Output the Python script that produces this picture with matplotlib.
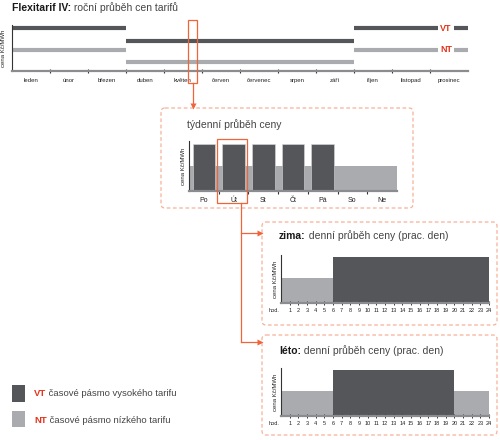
import matplotlib.pyplot as plt
from matplotlib.patches import Rectangle, FancyBboxPatch

plt.rcParams['font.family'] = ['Liberation Sans', 'DejaVu Sans']

# ---------------------------------------------------------------------
# data
# ---------------------------------------------------------------------
months = ["leden", "únor", "březen", "duben", "květen", "červen",
          "červenec", "srpen", "září", "říjen", "listopad", "prosinec"]
vt_month = [43, 43, 43, 30, 30, 30, 30, 30, 30, 43, 43, 43]
nt_month = [21, 21, 21, 9, 9, 9, 9, 9, 9, 21, 21, 21]

days = ["Po", "Út", "St", "Čt", "Pá", "So", "Ne"]
vt_day = [47, 47, 47, 47, 47, 0, 0]
nt_day = [25, 25, 25, 25, 25, 25, 25]

hours = list(range(1, 25))
zima_tarif = ["NT"] * 6 + ["VT"] * 18
leto_tarif = ["NT"] * 6 + ["VT"] * 14 + ["NT"] * 4
level = {"VT": 46, "NT": 25}

# ---------------------------------------------------------------------
# style
# ---------------------------------------------------------------------
DARK = "#545659"
LIGHT = "#a9abae"
ORANGE = "#f0643a"
BOXC = "#f7b29a"
RED = "#e5331a"
TXT = "#444444"

W, H = 500, 440
fig = plt.figure(figsize=(W / 100, H / 100), dpi=100)


def px_axes(x0, y0, x1, y1, z=2):
    return fig.add_axes([x0 / W, 1 - y1 / H, (x1 - x0) / W, (y1 - y0) / H], zorder=z)


def style_axes(ax):
    for s in ["top", "right"]:
        ax.spines[s].set_visible(False)
    ax.spines["left"].set_color("#333333")
    ax.spines["left"].set_linewidth(0.8)
    ax.spines["bottom"].set_color("#8a8c8f")
    ax.spines["bottom"].set_linewidth(1.6)
    ax.set_yticks([])
    ax.set_facecolor("none")


# ---------------------------------------------------------------------
# top chart: yearly course
# ---------------------------------------------------------------------
ax = px_axes(12, 25, 468, 71)
style_axes(ax)
ax.set_xlim(0, 12)
ax.set_ylim(0, 46)
starts = [i for i in range(12)]
ends = [i + 1 for i in range(12)]
ax.hlines(vt_month, starts, ends, color=DARK, lw=3, clip_on=False)
ax.hlines(nt_month, starts, ends, color=LIGHT, lw=3, clip_on=False)
ax.set_xticks(range(1, 12))
ax.set_xticklabels([])
ax.tick_params(axis="x", which="major", direction="inout", length=3,
               width=0.8, color="#333333")
ax.set_xticks([i + 0.5 for i in range(12)], minor=True)
ax.set_xticklabels(months, minor=True, fontsize=4.3, color="#222222")
ax.tick_params(axis="x", which="minor", length=0, pad=5)
ax.set_ylabel("cena Kč/MWh", fontsize=4.3, labelpad=2, color="#222222")
ax.yaxis.set_label_coords(-0.014, 0.5)
for lab, y in [("VT", vt_month[-1]), ("NT", nt_month[-1])]:
    ax.text(11.42, y, lab, fontsize=6.5, fontweight="bold", color=RED,
            ha="center", va="center",
            bbox=dict(boxstyle="square,pad=0.25", fc="white", ec="none"))

# ---------------------------------------------------------------------
# weekly chart
# ---------------------------------------------------------------------
ax = px_axes(189, 141, 397, 191)
style_axes(ax)
ax.set_xlim(0, 7)
ax.set_ylim(0, 50)
centers = [i + 0.5 for i in range(7)]
ax.bar(centers, nt_day, width=1, color=LIGHT, lw=0)
ax.bar(centers, vt_day, width=0.76, color=DARK, edgecolor="#d8d9da", lw=0.4)
ax.set_xticks(range(1, 7))
ax.set_xticklabels([])
ax.tick_params(axis="x", which="major", direction="out", length=2.5,
               width=0.8, color="#333333")
ax.set_xticks(centers, minor=True)
ax.set_xticklabels(days, minor=True, fontsize=5, color="#222222")
ax.tick_params(axis="x", which="minor", length=0, pad=4)
ax.set_ylabel("cena Kč/MWh", fontsize=4.3, labelpad=2, color="#222222")


# ---------------------------------------------------------------------
# daily charts
# ---------------------------------------------------------------------
def daily(y0, y1, tarif):
    ax = px_axes(281, y0, 489, y1)
    style_axes(ax)
    ax.set_xlim(0, 24)
    ax.set_ylim(0, 48)
    heights = [level[t] for t in tarif]
    colors = [DARK if t == "VT" else LIGHT for t in tarif]
    ax.bar([h - 0.5 for h in hours], heights, width=1.02, color=colors, lw=0)
    ax.set_xticks(hours)
    ax.set_xticklabels([str(h) for h in hours], fontsize=4, color="#222222")
    ax.tick_params(axis="x", direction="inout", length=2.5, width=0.7,
                   color="#333333", pad=2)
    ax.set_ylabel("cena Kč/MWh", fontsize=4.3, labelpad=2, color="#222222")
    ax.text(-0.8, -4.9, "hod.", fontsize=4, color="#222222",
            ha="center", va="top")
    return ax


daily(255, 303, zima_tarif)
daily(368, 416, leto_tarif)

# ---------------------------------------------------------------------
# overlay: titles, frames, arrows, legend
# ---------------------------------------------------------------------
ov = fig.add_axes([0, 0, 1, 1], zorder=10)
ov.set_xlim(0, W)
ov.set_ylim(H, 0)
ov.axis("off")
ov.set_facecolor("none")


def two_part(x, y, bold, rest, size, bold_color="#1a1a1a"):
    t1 = ov.text(x, y, bold, fontsize=size, fontweight="bold",
                 color=bold_color, va="bottom", ha="left")
    ov.annotate(rest, xy=(1, 0), xycoords=t1, fontsize=size, color=TXT,
                va="bottom", ha="left")


two_part(12, 13, "Flexitarif IV:", " roční průběh cen tarifů", 7.5)
ov.text(187, 130, "týdenní průběh ceny", fontsize=7.5, color=TXT,
        va="bottom", ha="left")
two_part(279, 241, "zima:", " denní průběh ceny (prac. den)", 7.5)
two_part(279, 356, "léto:", " denní průběh ceny (prac. den)", 7.5)

for (x0, y0, x1, y1) in [(161, 108, 413, 208), (262, 222, 497, 325),
                         (262, 335, 497, 435)]:
    ov.add_patch(FancyBboxPatch((x0, y0), x1 - x0, y1 - y0,
                                boxstyle="round,pad=0,rounding_size=4",
                                fc="none", ec=BOXC, lw=0.9, ls=(0, (3, 2))))

ov.add_patch(Rectangle((188, 20), 9, 63, fc="none", ec=ORANGE, lw=0.9))
ov.add_patch(Rectangle((217, 139), 30, 64, fc="none", ec=ORANGE, lw=0.9))

ov.plot([193, 193], [83, 104], color=ORANGE, lw=0.9)
ov.plot([193], [106], marker="v", ms=4, color=ORANGE, mec="none")
ov.plot([241, 241, 241], [203, 342, 342], color=ORANGE, lw=0.9)
ov.plot([241, 259], [233, 233], color=ORANGE, lw=0.9)
ov.plot([241, 259], [342, 342], color=ORANGE, lw=0.9)
ov.plot([260, 260], [233, 342], marker=">", ms=4, ls="none",
        color=ORANGE, mec="none")

ov.add_patch(Rectangle((12, 385), 13, 17, fc=DARK, ec="none"))
ov.add_patch(Rectangle((12, 411), 13, 16, fc=LIGHT, ec="none"))
for y, lab, rest in [(398, "VT", " časové pásmo vysokého tarifu"),
                     (425, "NT", " časové pásmo nízkého tarifu")]:
    two_part(34, y, lab, rest, 6.8, bold_color=RED)

fig.savefig("out.png", dpi=100)
